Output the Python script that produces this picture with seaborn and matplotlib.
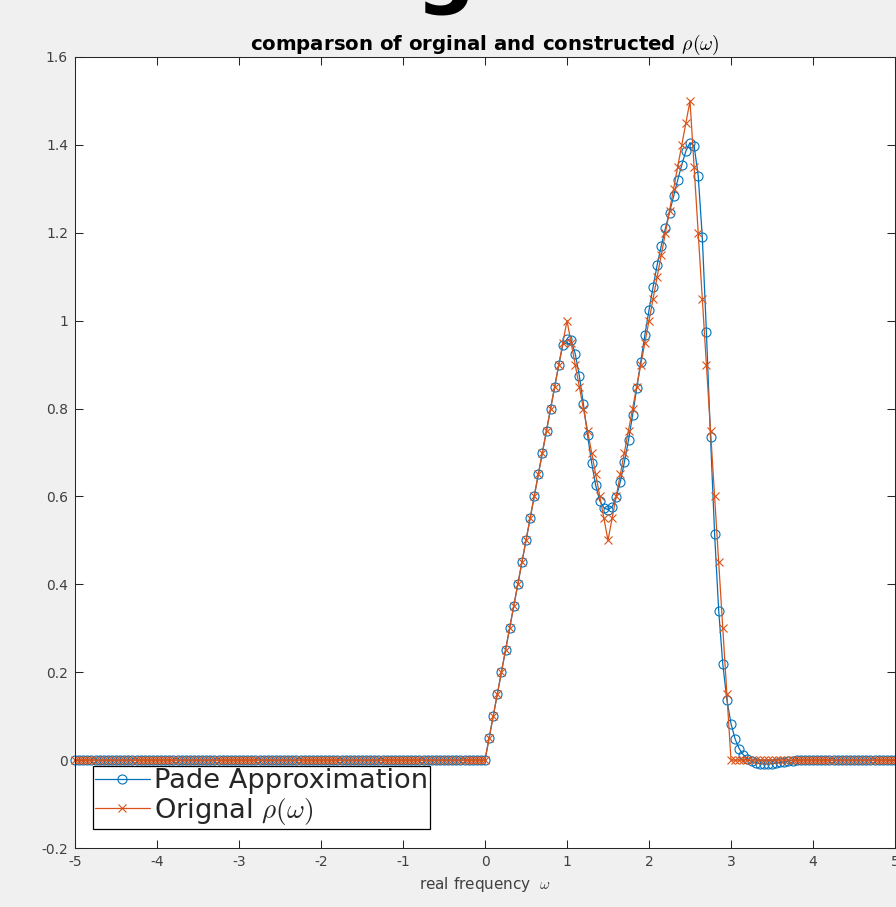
import matplotlib
matplotlib.use("Agg")
import matplotlib.pyplot as plt
import numpy as np
import pandas as pd
import seaborn as sns

# ---------------- data ----------------
omega = [
    -5.00, -4.95, -4.90, -4.85, -4.80, -4.75, -4.70, -4.65, -4.60, -4.55,
    -4.50, -4.45, -4.40, -4.35, -4.30, -4.25, -4.20, -4.15, -4.10, -4.05,
    -4.00, -3.95, -3.90, -3.85, -3.80, -3.75, -3.70, -3.65, -3.60, -3.55,
    -3.50, -3.45, -3.40, -3.35, -3.30, -3.25, -3.20, -3.15, -3.10, -3.05,
    -3.00, -2.95, -2.90, -2.85, -2.80, -2.75, -2.70, -2.65, -2.60, -2.55,
    -2.50, -2.45, -2.40, -2.35, -2.30, -2.25, -2.20, -2.15, -2.10, -2.05,
    -2.00, -1.95, -1.90, -1.85, -1.80, -1.75, -1.70, -1.65, -1.60, -1.55,
    -1.50, -1.45, -1.40, -1.35, -1.30, -1.25, -1.20, -1.15, -1.10, -1.05,
    -1.00, -0.95, -0.90, -0.85, -0.80, -0.75, -0.70, -0.65, -0.60, -0.55,
    -0.50, -0.45, -0.40, -0.35, -0.30, -0.25, -0.20, -0.15, -0.10, -0.05,
    0.00, 0.05, 0.10, 0.15, 0.20, 0.25, 0.30, 0.35, 0.40, 0.45,
    0.50, 0.55, 0.60, 0.65, 0.70, 0.75, 0.80, 0.85, 0.90, 0.95,
    1.00, 1.05, 1.10, 1.15, 1.20, 1.25, 1.30, 1.35, 1.40, 1.45,
    1.50, 1.55, 1.60, 1.65, 1.70, 1.75, 1.80, 1.85, 1.90, 1.95,
    2.00, 2.05, 2.10, 2.15, 2.20, 2.25, 2.30, 2.35, 2.40, 2.45,
    2.50, 2.55, 2.60, 2.65, 2.70, 2.75, 2.80, 2.85, 2.90, 2.95,
    3.00, 3.05, 3.10, 3.15, 3.20, 3.25, 3.30, 3.35, 3.40, 3.45,
    3.50, 3.55, 3.60, 3.65, 3.70, 3.75, 3.80, 3.85, 3.90, 3.95,
    4.00, 4.05, 4.10, 4.15, 4.20, 4.25, 4.30, 4.35, 4.40, 4.45,
    4.50, 4.55, 4.60, 4.65, 4.70, 4.75, 4.80, 4.85, 4.90, 4.95,
    5.00,
]

rho_pade = [
    0, 0, 0, 0, 0, 0, 0, 0, 0, 0,
    0, 0, 0, 0, 0, 0, 0, 0, 0, 0,
    0, 0, 0, 0, 0, 0, 0, 0, 0, 0,
    0, 0, 0, 0, 0, 0, 0, 0, 0, 0,
    0, 0, 0, 0, 0, 0, 0, 0, 0, 0,
    0, 0, 0, 0, 0, 0, 0, 0, 0, 0,
    0, 0, 0, 0, 0, 0, 0, 0, 0, 0,
    0, 0, 0, 0, 0, 0, 0, 0, 0, 0,
    0, 0, 0, 0, 0, 0, 0, 0, 0, 0,
    0, 0, 0, 0, 0, 0, 0, 0, 0, 0,
    0.000, 0.050, 0.100, 0.150, 0.200, 0.250, 0.300, 0.350, 0.400, 0.450,
    0.500, 0.550, 0.600, 0.650, 0.700, 0.750, 0.800, 0.850, 0.900, 0.945,
    0.958, 0.955, 0.925, 0.875, 0.810, 0.740, 0.677, 0.625, 0.590, 0.574,
    0.570, 0.576, 0.598, 0.633, 0.678, 0.728, 0.785, 0.846, 0.906, 0.968,
    1.024, 1.077, 1.127, 1.171, 1.210, 1.246, 1.283, 1.320, 1.355, 1.386,
    1.405, 1.398, 1.330, 1.190, 0.975, 0.735, 0.515, 0.340, 0.218, 0.137,
    0.083, 0.048, 0.026, 0.012, 0.003, -0.003, -0.006, -0.008, -0.009, -0.009,
    -0.008, -0.007, -0.005, -0.004, -0.002, -0.001, 0, 0, 0, 0,
    0, 0, 0, 0, 0, 0, 0, 0, 0, 0,
    0, 0, 0, 0, 0, 0, 0, 0, 0, 0,
    0,
]

rho_original = [
    0, 0, 0, 0, 0, 0, 0, 0, 0, 0,
    0, 0, 0, 0, 0, 0, 0, 0, 0, 0,
    0, 0, 0, 0, 0, 0, 0, 0, 0, 0,
    0, 0, 0, 0, 0, 0, 0, 0, 0, 0,
    0, 0, 0, 0, 0, 0, 0, 0, 0, 0,
    0, 0, 0, 0, 0, 0, 0, 0, 0, 0,
    0, 0, 0, 0, 0, 0, 0, 0, 0, 0,
    0, 0, 0, 0, 0, 0, 0, 0, 0, 0,
    0, 0, 0, 0, 0, 0, 0, 0, 0, 0,
    0, 0, 0, 0, 0, 0, 0, 0, 0, 0,
    0.00, 0.05, 0.10, 0.15, 0.20, 0.25, 0.30, 0.35, 0.40, 0.45,
    0.50, 0.55, 0.60, 0.65, 0.70, 0.75, 0.80, 0.85, 0.90, 0.95,
    1.00, 0.95, 0.90, 0.85, 0.80, 0.75, 0.70, 0.65, 0.60, 0.55,
    0.50, 0.55, 0.60, 0.65, 0.70, 0.75, 0.80, 0.85, 0.90, 0.95,
    1.00, 1.05, 1.10, 1.15, 1.20, 1.25, 1.30, 1.35, 1.40, 1.45,
    1.50, 1.35, 1.20, 1.05, 0.90, 0.75, 0.60, 0.45, 0.30, 0.15,
    0, 0, 0, 0, 0, 0, 0, 0, 0, 0,
    0, 0, 0, 0, 0, 0, 0, 0, 0, 0,
    0, 0, 0, 0, 0, 0, 0, 0, 0, 0,
    0, 0, 0, 0, 0, 0, 0, 0, 0, 0,
    0,
]

series_labels = ["Pade Approximation", r"Orignal $\rho(\omega)$"]
title_text = r"comparson of orginal and constructed $\rho(\omega)$"
x_label = r"real frequency  $\omega$"
x_ticks = [-5, -4, -3, -2, -1, 0, 1, 2, 3, 4, 5]
x_tick_labels = ["-5", "-4", "-3", "-2", "-1", "0", "1", "2", "3", "4", "5"]
y_ticks = [-0.2, 0, 0.2, 0.4, 0.6, 0.8, 1.0, 1.2, 1.4, 1.6]
y_tick_labels = ["-0.2", "0", "0.2", "0.4", "0.6", "0.8", "1", "1.2", "1.4", "1.6"]

BLUE = "#0072BD"
ORANGE = "#D95319"

# ---------------- style ----------------
sns.set_theme(style="ticks")
plt.rcParams.update({
    "font.family": ["DejaVu Sans"],
    "mathtext.fontset": "cm",
    "axes.unicode_minus": False,
    "axes.edgecolor": "#262626",
    "axes.linewidth": 0.75,
    "axes.facecolor": "white",
    "figure.facecolor": "#f0f0f0",
})

fig = plt.figure(figsize=(8.96, 9.07), dpi=100, facecolor="#f0f0f0")
ax = fig.add_axes([75 / 896, 1 - 848 / 907, 820 / 896, 791 / 907])

df = pd.DataFrame({"omega": omega, "pade": rho_pade, "orig": rho_original})

sns.lineplot(data=df, x="omega", y="pade", ax=ax, estimator=None,
             color=BLUE, linewidth=0.9, marker="o", markersize=6.5,
             markerfacecolor="none", markeredgecolor=BLUE,
             markeredgewidth=0.8, clip_on=False, label=series_labels[0])
sns.lineplot(data=df, x="omega", y="orig", ax=ax, estimator=None,
             color=ORANGE, linewidth=0.9, marker="x", markersize=5.5,
             markeredgecolor=ORANGE, markeredgewidth=0.8,
             clip_on=False, label=series_labels[1])

ax.set_xlim(-5, 5)
ax.set_ylim(-0.2, 1.6)
ax.set_xticks(x_ticks)
ax.set_xticklabels(x_tick_labels)
ax.set_yticks(y_ticks)
ax.set_yticklabels(y_tick_labels)
ax.tick_params(direction="in", length=5.8, width=0.75, top=True, right=True,
               labelsize=10, labelcolor="#404040", color="#262626", pad=5)
for s in ax.spines.values():
    s.set_visible(True)
    s.set_color("#262626")
    s.set_linewidth(0.75)

ax.set_xlabel(x_label, fontsize=11, color="#404040", labelpad=4)
ax.set_ylabel("")
ax.set_title(title_text, fontsize=14.2, fontweight="bold", pad=5, color="black")

handles, labels = ax.get_legend_handles_labels()
leg = ax.legend(handles, labels, loc="lower left",
                bbox_to_anchor=(18 / 820, 19 / 791), borderaxespad=0,
                fontsize=19.6, frameon=True, fancybox=False,
                edgecolor="black", framealpha=1, facecolor="white",
                handlelength=2.0, handletextpad=0.15, labelspacing=0.05,
                borderpad=0.08, numpoints=1)
leg.get_frame().set_linewidth(0.9)

# cropped fragment of a glyph at the very top of the picture
fig.text(445 / 896, 1 + 2 / 907, "g", fontsize=60, fontweight="bold",
         ha="center", va="baseline", color="black")

fig.savefig("out.png", dpi=100, facecolor=fig.get_facecolor())
